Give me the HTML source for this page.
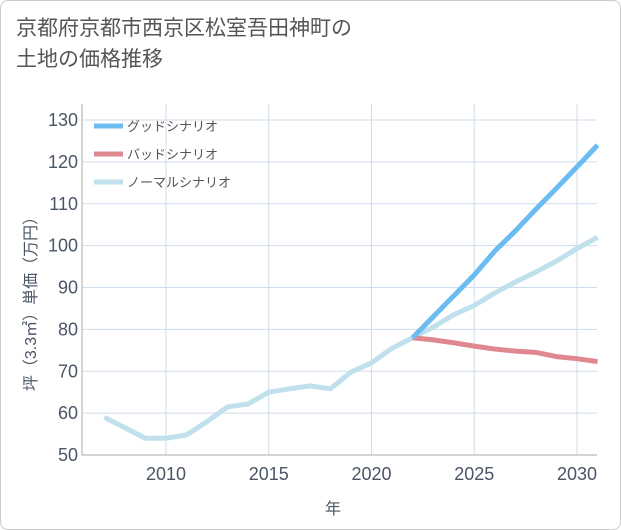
<!DOCTYPE html>
<html><head><meta charset="utf-8"><style>
body{margin:0;background:#fff;}
#card{position:absolute;left:0;top:0;width:619px;height:528px;border:1px solid #ccc;border-radius:8px;background:#fff;}
#title{position:absolute;left:16px;top:13px;font:21px "Liberation Sans","Noto Sans CJK JP",sans-serif;color:#555;line-height:31px;}
svg{position:absolute;left:0;top:0;}
text{font-family:"Liberation Sans","Noto Sans CJK JP",sans-serif;}
</style></head><body>
<div id="card"></div>
<div id="title">京都府京都市西京区松室吾田神町の<br>土地の価格推移</div>
<svg id="chart" width="621" height="530"></svg>
<script>
const years=[2007,2008,2009,2010,2011,2012,2013,2014,2015,2016,2017,2018,2019,2020,2021,2022,2023,2024,2025,2026,2027,2028,2029,2030,2031];
const normal=[59,56.5,54,54,54.8,58,61.5,62.2,65,65.8,66.5,65.8,69.8,72,75.5,78,80.5,83.5,85.7,88.7,91.3,93.7,96.3,99.3,102];
const fYears=[2022,2023,2024,2025,2026,2027,2028,2029,2030,2031];
const good=[78,83,88,93,98.7,103.5,108.7,113.7,118.8,124];
const bad=[78,77.5,76.8,76,75.3,74.8,74.5,73.5,73,72.3];
const yTicks=[50,60,70,80,90,100,110,120,130];
const xTicks=[2010,2015,2020,2025,2030];
const L=82,R=597,T=104,B=455;
const x=v=>166+(v-2010)*(577-166)/20;
const y=v=>455-(v-50)*(455-120)/80;
const svg=document.getElementById('chart');
const NS='http://www.w3.org/2000/svg';
function mk(t,a,p){const e=document.createElementNS(NS,t);for(const k in a)e.setAttribute(k,a[k]);(p||svg).appendChild(e);return e;}
for(const t of yTicks){
 const l=mk('line',{x1:L,x2:R,y1:y(t),y2:y(t),stroke:'#cfdeec','stroke-width':1});
 
 
 const tx=mk('text',{x:L-4,y:y(t)+6,'text-anchor':'end','font-size':18,fill:'#4a5566'});
 tx.textContent=t;
 
 
}
for(const t of xTicks){
 const l=mk('line',{x1:x(t),x2:x(t),y1:T,y2:B,stroke:'#cfdeec','stroke-width':1});
 
 
 const tx=mk('text',{x:x(t),y:B+25,'text-anchor':'middle','font-size':18,fill:'#4a5566'});
 tx.textContent=t;
 
 
}
const ax=mk('path',{d:`M${L},${T}V${B}H${R}`,fill:'none',stroke:'#aaa','stroke-width':1});


function line(xs,vs,c,n){
 const p=mk('polyline',{points:xs.map((v,i)=>x(v)+','+y(vs[i])).join(' '),fill:'none',stroke:c,'stroke-width':5,'stroke-linejoin':'round'});
 
 
}
line(years,normal,'#bfe0ec','normal-line');
line(fYears,bad,'#e08890','bad-line');
line(fYears,good,'#6bbcf0','good-line');
const leg=[['グッドシナリオ','#6bbcf0'],['バッドシナリオ','#e08890'],['ノーマルシナリオ','#bfe0ec']];
leg.forEach((d,i)=>{
 const g=mk('g',{});
 
 
 mk('line',{x1:94,x2:123,y1:126+i*28,y2:126+i*28,stroke:d[1],'stroke-width':5},g);
 const t=mk('text',{x:127,y:131+i*28,'font-size':13,fill:'#555'},g);
 t.textContent=d[0];
});
const yt=mk('text',{x:0,y:0,'font-size':16,fill:'#4a5566','text-anchor':'middle',transform:'translate(36,300) rotate(-90)'});
yt.textContent='坪（3.3㎡）単価（万円）';


const xt=mk('text',{x:333,y:514,'font-size':16,fill:'#4a5566','text-anchor':'middle'});
xt.textContent='年';


</script>
</body></html>
